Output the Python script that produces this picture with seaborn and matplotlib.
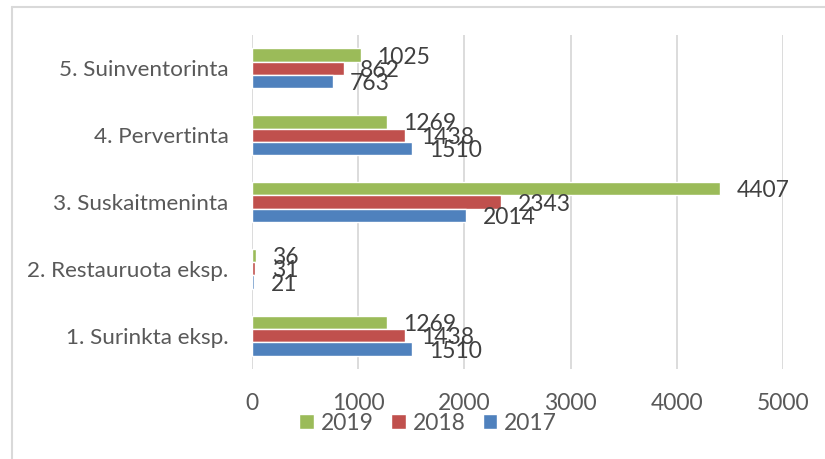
import matplotlib
matplotlib.use("Agg")
import matplotlib.pyplot as plt
import seaborn as sns
import pandas as pd
from matplotlib.lines import Line2D

categories = ["5. Suinventorinta", "4. Pervertinta", "3. Suskaitmeninta",
              "2. Restauruota eksp.", "1. Surinkta eksp."]
years = ["2019", "2018", "2017"]
values_2019 = [1025, 1269, 4407, 36, 1269]
values_2018 = [862, 1438, 2343, 31, 1438]
values_2017 = [763, 1510, 2014, 21, 1510]
colors = {"2019": "#9bbb59", "2018": "#c0504d", "2017": "#4f81bd"}
xticks = [0, 1000, 2000, 3000, 4000, 5000]

rows = []
for yr, vals in zip(years, [values_2019, values_2018, values_2017]):
    for c, v in zip(categories, vals):
        rows.append({"cat": c, "year": yr, "value": v})
df = pd.DataFrame(rows)

sns.set_theme(style="white")
plt.rcParams["font.family"] = ["Lato", "DejaVu Sans"]

fig = plt.figure(figsize=(8.25, 4.59), dpi=100)
ax = fig.add_axes([252 / 825, 1 - 369 / 459, (783 - 252) / 825, (369 - 35) / 459])

sns.barplot(data=df, y="cat", x="value", hue="year", order=categories,
            hue_order=years, palette=colors, orient="h", width=0.6,
            saturation=1, ax=ax, legend=True, errorbar=None, zorder=3)

ax.set_xlim(0, 5000)
ax.set_xticks(xticks)
ax.set_xticklabels([str(t) for t in xticks])
ax.grid(axis="x", color="#d9d9d9", linewidth=1.3, zorder=0)
ax.grid(axis="y", visible=False)
for s in ax.spines.values():
    s.set_visible(False)
ax.set_xlabel("")
ax.set_ylabel("")
ax.tick_params(axis="x", length=0, pad=17, labelsize=16.5, labelcolor="#595959")
ax.tick_params(axis="y", length=0, pad=17, labelsize=16.2, labelcolor="#595959")

for cont in ax.containers:
    anns = ax.bar_label(cont, padding=12, fontsize=16.5, color="#404040")
    for a in anns:
        x0, y0 = a.xyann
        a.xyann = (x0, y0 - 1.5)

leg = ax.get_legend()
handles = leg.legend_handles
labels = [t.get_text() for t in leg.get_texts()]
leg.remove()
fig.legend(handles, labels, loc="center", bbox_to_anchor=(428 / 825, 1 - 423 / 459),
           ncol=3, frameon=False, fontsize=16.5, labelcolor="#595959",
           handlelength=0.65, handleheight=0.65, handletextpad=0.3, columnspacing=0.75)

# outer chart frame (left and top edges visible)
fig.add_artist(Line2D([12 / 825, 12 / 825], [0, 1 - 7 / 459], color="#d9d9d9",
                      lw=1.5, transform=fig.transFigure))
fig.add_artist(Line2D([12 / 825, 1], [1 - 7 / 459, 1 - 7 / 459], color="#d9d9d9",
                      lw=1.5, transform=fig.transFigure))

fig.savefig("out.png", dpi=100)
